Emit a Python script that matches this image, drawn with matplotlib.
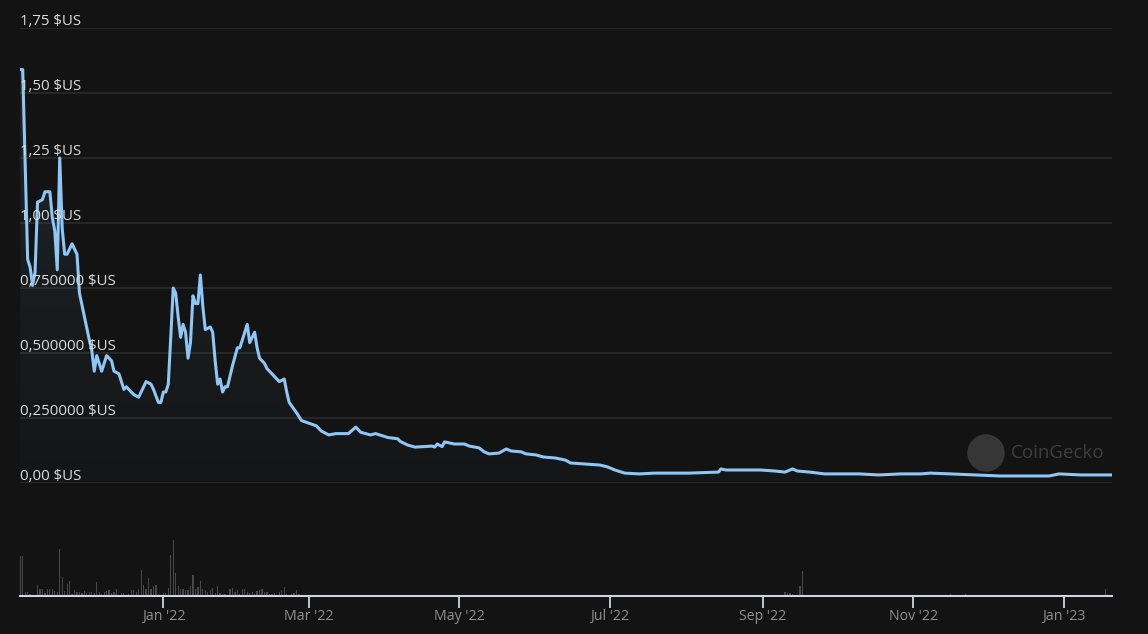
'''
Price and volume chart in the CoinGecko dark style.
'''

import numpy as np
import matplotlib
matplotlib.use('Agg')
import matplotlib.pyplot as plt
import matplotlib.dates as mdates
from matplotlib.patches import PathPatch, Circle


# Data
start_date = np.datetime64('2021-11-04')

price_days = [0, 1, 3, 4, 5, 6, 7, 9, 10, 12, 13, 14, 15, 16, 17, 18, 19, 21, 23, 24,
              26, 28, 29, 30, 31, 33, 35, 37, 38, 40, 42, 43, 46, 48, 49, 51, 53, 54, 56, 57,
              58, 59, 60, 61, 62, 63, 64, 65, 66, 67, 68, 69, 70, 71, 72, 73, 74, 75, 77, 78,
              79, 80, 81, 82, 83, 84, 86, 88, 89, 92, 93, 95, 96, 97, 99, 100, 102, 105, 107, 108,
              109, 112, 114, 117, 120, 122, 125, 128, 133, 136, 138, 142, 144, 149, 153, 154, 157, 160, 167, 168,
              169, 171, 172, 176, 180, 182, 186, 188, 190, 194, 197, 199, 203, 205, 209, 212, 217, 221, 223, 229,
              235, 238, 241, 245, 251, 257, 271, 283, 284, 286, 300, 306, 310, 313, 315, 320, 326, 340, 348, 357,
              365, 369, 377, 397, 417, 421, 430, 442]

price_usd = [1.59, 1.59, 0.86, 0.83, 0.76, 0.81, 1.08, 1.09, 1.12, 1.12, 1.02, 0.97, 0.82, 1.25, 0.98, 0.88, 0.88, 0.92, 0.88, 0.73,
             0.64, 0.55, 0.51, 0.43, 0.49, 0.43, 0.49, 0.47, 0.43, 0.42, 0.36, 0.37, 0.34, 0.33, 0.35, 0.39, 0.38, 0.36, 0.31, 0.31,
             0.35, 0.35, 0.38, 0.56, 0.75, 0.73, 0.64, 0.56, 0.61, 0.58, 0.48, 0.54, 0.72, 0.69, 0.69, 0.80, 0.68, 0.59, 0.60, 0.58,
             0.47, 0.38, 0.40, 0.35, 0.37, 0.37, 0.45, 0.52, 0.52, 0.61, 0.54, 0.58, 0.52, 0.48, 0.46, 0.44, 0.42, 0.39, 0.40, 0.35,
             0.31, 0.27, 0.24, 0.23, 0.22, 0.20, 0.185, 0.19, 0.19, 0.215, 0.195, 0.185, 0.19, 0.175, 0.17, 0.16, 0.146, 0.138, 0.142, 0.138,
             0.15, 0.14, 0.158, 0.15, 0.15, 0.142, 0.135, 0.12, 0.112, 0.115, 0.131, 0.123, 0.12, 0.112, 0.108, 0.10, 0.096, 0.088, 0.077, 0.073,
             0.069, 0.062, 0.05, 0.038, 0.035, 0.038, 0.038, 0.042, 0.054, 0.05, 0.05, 0.046, 0.042, 0.054, 0.046, 0.042, 0.035, 0.035, 0.031, 0.035,
             0.035, 0.038, 0.035, 0.027, 0.027, 0.035, 0.031, 0.031]

volume_days = [0, 1, 2, 3, 4, 6, 7, 8, 9, 10, 11, 12, 13, 14, 15, 16, 17, 18, 19, 20,
               21, 22, 23, 24, 25, 26, 27, 28, 29, 30, 31, 32, 33, 34, 35, 36, 37, 38, 39, 40,
               41, 42, 43, 44, 45, 46, 47, 48, 49, 50, 51, 52, 53, 54, 55, 56, 57, 58, 59, 60,
               61, 62, 63, 64, 65, 66, 67, 68, 69, 70, 71, 72, 73, 74, 75, 76, 77, 78, 79, 80,
               81, 82, 83, 84, 85, 86, 87, 88, 89, 90, 91, 92, 93, 94, 95, 96, 97, 98, 99, 100,
               101, 102, 103, 105, 106, 107, 108, 110, 111, 112, 113, 124, 130, 135, 145, 158, 180, 192, 200, 284,
               292, 310, 311, 312, 313, 314, 316, 317, 357, 371, 377, 380, 383, 385, 409, 440]

volume_k = [39, 39, 4, 4, 2, 1, 11, 7, 7, 3, 7, 7, 7, 5, 4, 46, 19, 5, 12, 15,
            2, 6, 4, 4, 3, 5, 3, 4, 4, 3, 14, 4, 2, 4, 5, 6, 3, 4, 7, 1,
            3, 3, 1, 2, 6, 6, 4, 7, 26, 11, 7, 18, 7, 10, 11, 2, 1, 3, 3, 8,
            40, 55, 23, 10, 7, 7, 6, 6, 10, 21, 7, 9, 15, 7, 6, 4, 6, 8, 3, 10,
            3, 2, 2, 1, 7, 8, 4, 6, 2, 7, 7, 4, 3, 4, 2, 5, 6, 7, 4, 4,
            2, 2, 3, 4, 6, 9, 2, 2, 3, 6, 2, 1, 1, 1, 1, 1, 1, 1, 1, 1,
            1, 4, 3, 3, 2, 1, 10, 25, 1, 1, 2, 1, 2, 1, 1, 7]

y_ticks = [0.0, 0.25, 0.5, 0.75, 1.0, 1.25, 1.5, 1.75]
y_tick_labels = ['0,00 $US', '0,250000 $US', '0,500000 $US', '0,750000 $US',
                 '1,00 $US', '1,25 $US', '1,50 $US', '1,75 $US']

# Colours
bg = '#131313'
grid_color = '#2a2a2a'
line_color = '#8ec6f5'
plt.rcParams['font.family'] = ['Open Sans', 'DejaVu Sans']

W, H = 1148, 634
fig = plt.figure(figsize=(W / 100, H / 100), dpi=100, facecolor=bg)

dates = start_date + np.array(price_days) * np.timedelta64(1, 'D')
vdates = start_date + np.array(volume_days) * np.timedelta64(1, 'D')
x_lo = mdates.date2num(start_date) - 0.1
x_hi = mdates.date2num(start_date) + 442.5

# Price panel
left, right = 20 / W, 1112 / W
ax = fig.add_axes([left, 1 - 483 / H, right - left, (483 - 28) / H])
ax.set_facecolor(bg)
ax.plot(dates, price_usd, color=line_color, lw=2.2, solid_joinstyle='round', zorder=3)

# Gradient fill under the line
fill = ax.fill_between(dates, price_usd, 0, color='none')
clip = PathPatch(fill.get_paths()[0], facecolor='none', edgecolor='none', transform=ax.transData)
ax.add_patch(clip)
grad = np.zeros((256, 1, 4))
grad[..., :3] = matplotlib.colors.to_rgb(line_color)
grad[..., 3] = np.linspace(0.10, 0.015, 256)[:, None]
im = ax.imshow(grad, extent=[x_lo, x_hi, 0, 1.6], aspect='auto', origin='upper', zorder=2)
im.set_clip_path(clip)
ax.set_xlim(x_lo, x_hi)
ax.set_ylim(0, 1.75)

for yv, lab in zip(y_ticks, y_tick_labels):
    ax.axhline(yv, color=grid_color, lw=1.2, zorder=1)
    ax.annotate(lab, xy=(0, yv), xycoords=('axes fraction', 'data'), xytext=(0, -1),
                textcoords='offset points', ha='left', va='bottom',
                color='#dcdcdc', fontsize=10.8, zorder=4)
ax.set_xticks([])
ax.set_yticks([])
for s in ax.spines.values():
    s.set_visible(False)

# Watermark
fig.patches.append(Circle((986 / 100, (H - 453) / 100), 0.18, transform=fig.dpi_scale_trans,
                          color='#3a3a3a', alpha=0.9, zorder=1))
fig.text(1011 / W, 1 - 453 / H, 'CoinGecko', color='#3e3e3e', fontsize=13.5,
         ha='left', va='center')

# Volume panel
vax = fig.add_axes([left, 1 - 596 / H, right - left, 58 / H])
vax.set_facecolor('none')
vax.bar(vdates, volume_k, width=0.5, color='#484848', align='center')
vax.set_xlim(x_lo, x_hi)
vax.set_ylim(0, 57)
vax.set_yticks([])
for name in ['top', 'left', 'right']:
    vax.spines[name].set_visible(False)
vax.spines['bottom'].set_color('#d0d4dc')
vax.spines['bottom'].set_linewidth(1.5)
vax.xaxis.set_major_locator(mdates.MonthLocator(bymonth=[1, 3, 5, 7, 9, 11]))
vax.xaxis.set_major_formatter(mdates.DateFormatter("%b '%y"))
vax.tick_params(axis='x', length=8.6, width=1.3, color='#d0d4dc', labelcolor='#909090',
                labelsize=10.2, pad=1)

fig.savefig('out.png', dpi=100, facecolor=bg)
